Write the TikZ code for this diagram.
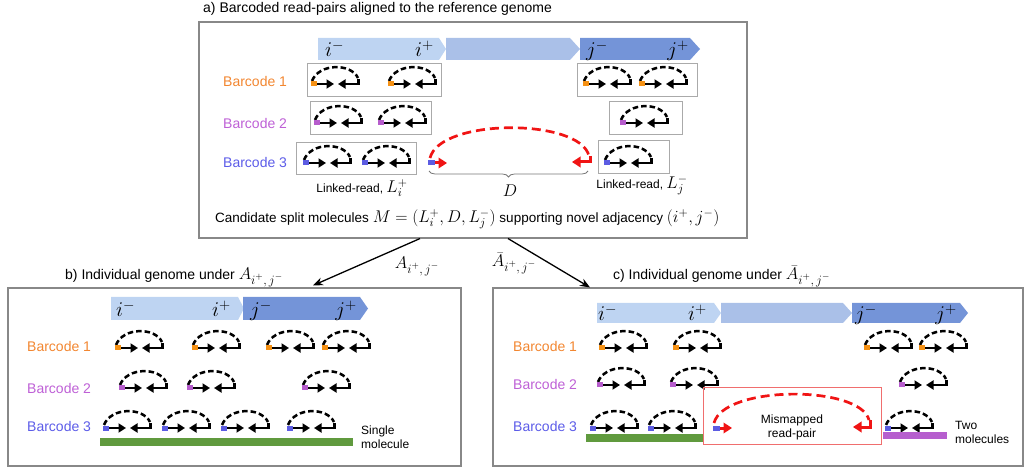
\RequirePackage{fix-cm}
\documentclass[tikz,border=0pt]{standalone}
\usepackage{fontspec}
\setmainfont{Liberation Sans}
\usetikzlibrary{arrows.meta,decorations.pathreplacing,calc}
\definecolor{barL}{RGB}{190,212,242}
\definecolor{barM}{RGB}{170,192,232}
\definecolor{barD}{RGB}{116,148,216}
\definecolor{txtO}{RGB}{242,134,48}
\definecolor{txtP}{RGB}{190,96,214}
\definecolor{txtB}{RGB}{92,92,232}
\definecolor{tagO}{RGB}{245,145,20}
\definecolor{tagP}{RGB}{182,92,204}
\definecolor{tagB}{RGB}{92,92,226}
\definecolor{molG}{RGB}{96,154,62}
\definecolor{molP}{RGB}{182,94,206}
\definecolor{frameG}{RGB}{136,136,136}
\definecolor{boxG}{RGB}{170,170,170}
\definecolor{redR}{RGB}{240,20,20}
\definecolor{redBox}{RGB}{240,110,110}
\newcommand{\mth}[2]{{\fontsize{#1}{#1}\selectfont$#2$}}
\newcommand{\asub}[2]{{\fontsize{#1}{#1}\selectfont$#2_{\mbox{\fontsize{#1}{#1}\selectfont\fontsize{\dimexpr#1pt*3/4\relax}{1}\selectfont$i^{+},j^{-}$}}$}}
\tikzset{
  panel/.style={draw=frameG, line width=1.1pt, inner sep=0pt},
  gbox/.style={draw=boxG, line width=0.7pt, inner sep=0pt},
  readarr/.style={line width=2.5pt, line join=miter, -{Triangle[length=7.5pt,width=9pt]}},
  pairarc/.style={line width=2.5pt, dash pattern=on 5.5pt off 3pt},
  redarr/.style={redR, line width=3pt, line join=miter, -{Triangle[length=8.5pt,width=10.5pt]}},
  redarc/.style={redR, line width=2.7pt, dash pattern=on 9pt off 5pt},
  conn/.style={line width=1.3pt, -{Stealth[length=10pt,width=8pt]}},
  ttl/.style={font=\fontsize{14}{16}\selectfont, inner sep=0pt},
  bclab/.style={font=\fontsize{14}{16}\selectfont, inner sep=0pt, anchor=west},
  small/.style={font=\fontsize{12}{14}\selectfont, inner sep=0pt},
  gl/.style={font=\fontsize{21}{21}\selectfont, inner sep=0pt},
  mlab/.style={inner sep=0pt},
  pics/rp/.style={code={
    \draw[pairarc] (1,-3) .. controls (8,-21) and (40,-21) .. (47,-6);
    \draw[readarr] (6,0) -- (23,0);
    \draw[readarr] (47.5,-5) -- (47.5,0) -- (27,0);
    \fill[#1] (0,-2.5) rectangle (6,2.5);
  }},
}
\begin{document}
\begin{tikzpicture}[x=1pt,y=-1pt]
\useasboundingbox (0,0) rectangle (1026,470);

% ---------------- panel a ----------------
\node[panel, minimum width=548pt, minimum height=216pt] (pa) at (473,130) {};
\node[ttl, anchor=west] (ta) at (203,9) {a) Barcoded read-pairs aligned to the reference genome};

\fill[barL] (318,38) -- (439,38) -- (446,49) -- (439,60) -- (318,60) -- cycle;
\fill[barM] (446,38) -- (570,38) -- (580,49) -- (570,60) -- (446,60) -- cycle;
\fill[barD] (580,38) -- (690,38) -- (700,49) -- (690,60) -- (580,60) -- cycle;
\node[gl, anchor=base west] (aim) at (325,57) {$i^-$};
\node[gl, anchor=base east] (aip) at (434,57) {$i^+$};
\node[gl, anchor=base west] (ajm) at (586,57) {$j^-$};
\node[gl, anchor=base east] (ajp) at (689,57) {$j^+$};

\node[gbox, minimum width=134pt, minimum height=33pt] (b1l) at (374,79.5) {};
\node[gbox, minimum width=120pt, minimum height=33pt] (b1r) at (637,79.5) {};
\node[gbox, minimum width=121pt, minimum height=33pt] (b2l) at (370.5,117.5) {};
\node[gbox, minimum width=73pt, minimum height=33pt] (b2r) at (645.5,117.5) {};
\node[gbox, minimum width=120pt, minimum height=32pt] (b3l) at (356,158) {};
\node[gbox, minimum width=71pt, minimum height=33pt] (b3r) at (633.5,156.5) {};

\node[bclab, text=txtO] (a1) at (223,81) {Barcode 1};
\node[bclab, text=txtP] (a2) at (223,123) {Barcode 2};
\node[bclab, text=txtB] (a3) at (223,162) {Barcode 3};

\foreach \x in {311,388,583,639} \pic at (\x,84) {rp=tagO};
\foreach \x in {314,378,620} \pic at (\x,123) {rp=tagP};
\foreach \x in {303,362,604} \pic at (\x,163) {rp=tagB};

% red mismapped pair (a)
\draw[redarc] (430,158) .. controls (440,118) and (580,118) .. (589,156);
\draw[redarr] (434,163) -- (447,163);
\draw[redarr] (590,156) -- (590,162) -- (572,162);
\fill[tagB] (428,160.5) rectangle (435,165.5);

\draw[boxG!70!black, line width=0.8pt, decorate, decoration={brace, mirror, amplitude=6pt}] (429,171) -- (588,171);
\node[font=\fontsize{17}{17}\selectfont, inner sep=0pt] (dl) at (510,191) {$D$};
\node[small, anchor=base] (lri) at (362,193) {Linked-read, \mth{17}{L_i^+}};
\node[small, anchor=base] (lrj) at (642,189) {Linked-read, \mth{17}{L_j^-}};
\node[font=\fontsize{13.5}{16}\selectfont, inner sep=0pt, anchor=base west] (cand) at (215,223)
  {Candidate split molecules \mth{17}{M=(L_i^+,D,L_j^-)} supporting novel adjacency \mth{17}{(i^+,j^-)}};

% ---------------- panel b ----------------
\node[panel, minimum width=453pt, minimum height=178pt] (pb) at (234.5,377) {};
\node[ttl, anchor=base west] (tb) at (65,280) {b) Individual genome under \asub{17}{A}};

\fill[barL] (111,297) -- (238,297) -- (244,308.5) -- (238,320) -- (111,320) -- cycle;
\fill[barD] (243,297) -- (360,297) -- (368,308.5) -- (360,320) -- (243,320) -- cycle;
\node[gl, anchor=base west] (bim) at (116,317) {$i^-$};
\node[gl, anchor=base east] (bip) at (231,317) {$i^+$};
\node[gl, anchor=base west] (bjm) at (250,317) {$j^-$};
\node[gl, anchor=base east] (bjp) at (357,317) {$j^+$};

\node[bclab, text=txtO] (b1) at (27,346) {Barcode 1};
\node[bclab, text=txtP] (b2) at (27,388) {Barcode 2};
\node[bclab, text=txtB] (b3) at (27,426) {Barcode 3};

\foreach \x in {115,192,266,322} \pic at (\x,348) {rp=tagO};
\foreach \x in {119,187,302} \pic at (\x,388) {rp=tagP};
\foreach \x in {103,162,221,287} \pic at (\x,428) {rp=tagB};
\fill[molG] (100,438) rectangle (353,446);
\node[small, anchor=west, align=left] (sm) at (361,437) {Single\\molecule};

% ---------------- panel c ----------------
\node[panel, minimum width=530pt, minimum height=178pt] (pc) at (758,377) {};
\node[ttl, anchor=base west] (tc) at (613,280) {c) Individual genome under \asub{17}{\bar{A}}};

\fill[barL] (597,303) -- (714,303) -- (721,313) -- (714,323) -- (597,323) -- cycle;
\fill[barM] (721,303) -- (843,303) -- (852,313) -- (843,323) -- (721,323) -- cycle;
\fill[barD] (852,303) -- (960,303) -- (968,313) -- (960,323) -- (852,323) -- cycle;
\node[gl, anchor=base west] (cim) at (598,321) {$i^-$};
\node[gl, anchor=base east] (cip) at (707,321) {$i^+$};
\node[gl, anchor=base west] (cjm) at (855,321) {$j^-$};
\node[gl, anchor=base east] (cjp) at (957,321) {$j^+$};

\node[bclab, text=txtO] (c1) at (513,346) {Barcode 1};
\node[bclab, text=txtP] (c2) at (513,384) {Barcode 2};
\node[bclab, text=txtB] (c3) at (513,426) {Barcode 3};

\foreach \x in {599,673,864,919} \pic at (\x,348) {rp=tagO};
\foreach \x in {597,670,899} \pic at (\x,385) {rp=tagP};
\foreach \x in {590,648,885} \pic at (\x,428) {rp=tagB};
\fill[molG] (586,434) rectangle (703,442);
\fill[molP] (883,432) rectangle (947,439);

\node[draw=redBox, line width=0.8pt, inner sep=0pt, minimum width=178pt, minimum height=57pt] (mm) at (792,415.5) {};
\draw[redarc] (714,423) .. controls (724,385) and (860,385) .. (869,420);
\draw[redarr] (719,428) -- (732,428);
\draw[redarr] (870,420) -- (870,427) -- (853,427);
\fill[tagB] (713,425.5) rectangle (720,430.5);
\node[small, align=center] (mmt) at (792,427) {Mismapped\\read-pair};
\node[small, anchor=west, align=left] (tm) at (955,432) {Two\\molecules};

% ---------------- connectors ----------------
\draw[conn] ([xshift=-53pt]pa.south) -- ([xshift=78.5pt, yshift=2pt]pb.north);
\draw[conn] ([xshift=35pt]pa.south) -- ([xshift=-168pt]pc.north);
\node[mlab, anchor=base] (la) at (417,269) {\asub{17}{A}};
\node[mlab, anchor=base] (lb) at (514,267) {\asub{17}{\bar{A}}};
\end{tikzpicture}
\end{document}
